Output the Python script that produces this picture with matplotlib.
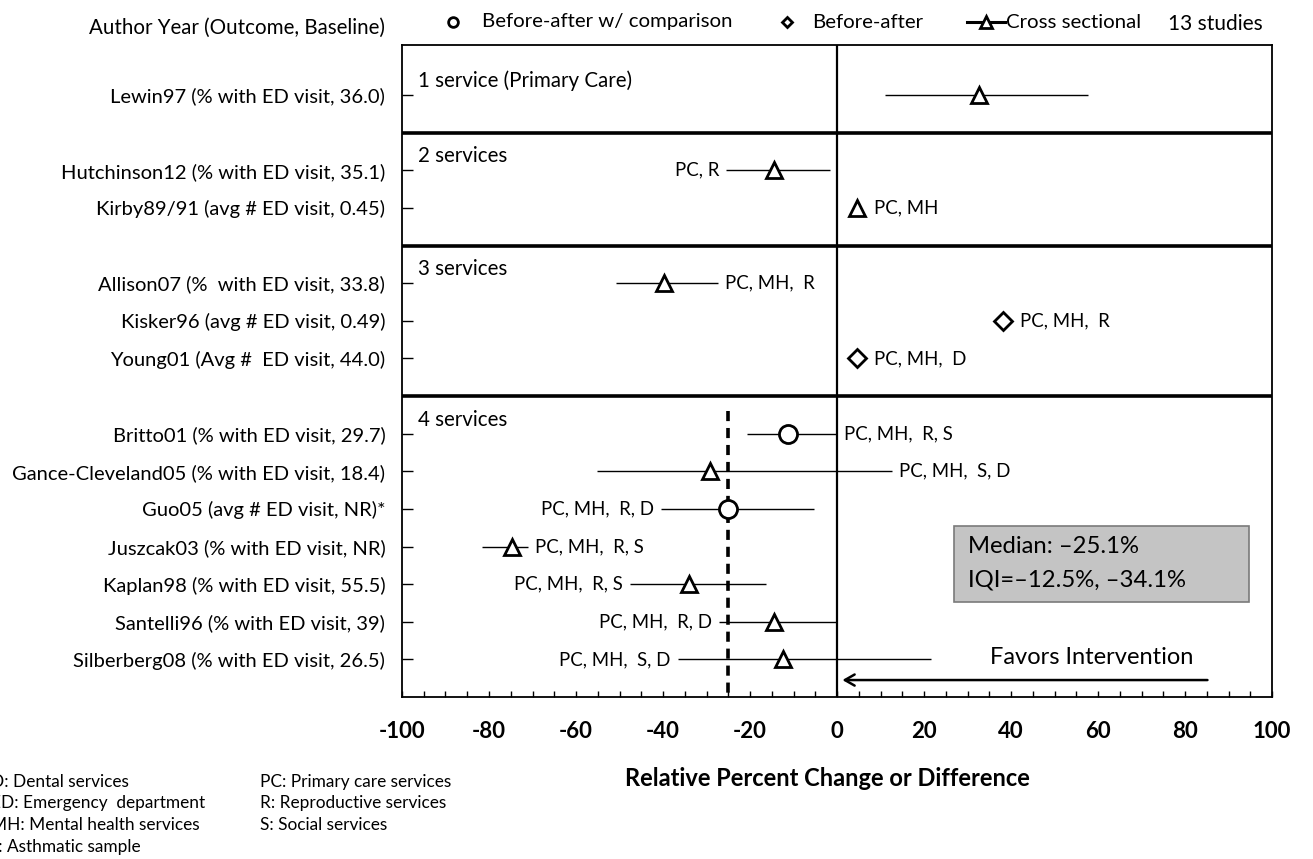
import numpy as np
import matplotlib
matplotlib.use('Agg')
import matplotlib.pyplot as plt
from matplotlib.lines import Line2D
from matplotlib.patches import Rectangle
from matplotlib.ticker import MultipleLocator, FuncFormatter

plt.rcParams['font.family'] = ['Lato', 'DejaVu Sans']
plt.rcParams['axes.unicode_minus'] = False

# data
studies = ['Lewin97 (% with ED visit, 36.0)',
           'Hutchinson12 (% with ED visit, 35.1)',
           'Kirby89/91 (avg # ED visit, 0.45)',
           'Allison07 (%  with ED visit, 33.8)',
           'Kisker96 (avg # ED visit, 0.49)',
           'Young01 (Avg #  ED visit, 44.0)',
           'Britto01 (% with ED visit, 29.7)',
           'Gance-Cleveland05 (% with ED visit, 18.4)',
           'Guo05 (avg # ED visit, NR)*',
           'Juszcak03 (% with ED visit, NR)',
           'Kaplan98 (% with ED visit, 55.5)',
           'Santelli96 (% with ED visit, 39)',
           'Silberberg08 (% with ED visit, 26.5)']
n_services = [1, 2, 2, 3, 3, 3, 4, 4, 4, 4, 4, 4, 4]
design = ['cs', 'cs', 'cs', 'cs', 'ba', 'ba', 'bac', 'cs', 'bac', 'cs', 'cs', 'cs', 'cs']
effect = [32.6, -14.5, 4.6, -39.8, 38.2, 4.6, -11.3, -29.2, -25.1, -74.8, -34.0, -14.5, -12.4]
ci_lo = [11.0, -25.5, np.nan, -50.8, np.nan, np.nan, -20.7, -55.2, -40.5, -81.7, -47.6, -27.1, -36.6]
ci_hi = [57.8, -1.6, np.nan, -27.4, np.nan, np.nan, 0.0, 12.6, -5.3, -71.0, -16.3, 0.0, 21.6]
services = ['', 'PC, R', 'PC, MH', 'PC, MH,  R', 'PC, MH,  R', 'PC, MH,  D', 'PC, MH,  R, S',
            'PC, MH,  S, D', 'PC, MH,  R, D', 'PC, MH,  R, S', 'PC, MH,  R, S', 'PC, MH,  R, D',
            'PC, MH,  S, D']
label_side = ['', 'L', 'R', 'R', 'R', 'R', 'R', 'R', 'L', 'R', 'L', 'L', 'L']
group_names = ['1 service (Primary Care)', '2 services', '3 services', '4 services']
median = -25.1
iqi = (-12.5, -34.1)
n_studies = 13

design_names = {'bac': 'Before-after w/ comparison', 'ba': 'Before-after', 'cs': 'Cross sectional'}
design_marker = {'bac': 'o', 'ba': 'D', 'cs': '^'}
design_ms = {'bac': 13, 'ba': 9, 'cs': 12}

# rows: one blank row between service groups
rows = []
r = -1
for i, g in enumerate(n_services):
    r += 1
    if i > 0 and g != n_services[i - 1]:
        r += 1
    rows.append(r)
rows = np.array(rows, dtype=float)
effect = np.array(effect)
ci_lo = np.array(ci_lo)
ci_hi = np.array(ci_hi)

W, H = 1313, 859
fig = plt.figure(figsize=(W / 100, H / 100), dpi=100)
ax = fig.add_axes([402 / W, 1 - 697 / H, 870 / W, 652 / H])
ax.set_xlim(-100, 100)
ax.set_ylim(16.0, -1.33)

# group separators
first_rows = []
for i in range(len(rows)):
    if i == 0 or n_services[i] != n_services[i - 1]:
        first_rows.append(rows[i])
        if i > 0:
            ax.axhline((rows[i] + rows[i - 1]) / 2, color='black', lw=2.6, zorder=2)
for name, fr in zip(group_names, first_rows):
    ax.text(-96.3, fr - 0.37, name, fontsize=14.8, va='center', ha='left')

ax.axvline(0, color='black', lw=1.6, zorder=2)

# CIs
ok = ~np.isnan(ci_lo)
ax.hlines(rows[ok], ci_lo[ok], ci_hi[ok], color='black', lw=1.0, zorder=2)

# median line in the 4-service section
ax.vlines(median, first_rows[-1] - 0.6, 16.0, color='black', lw=2.6,
          linestyles=(0, (2.8, 1.9)), zorder=2)

for d in ['bac', 'ba', 'cs']:
    m = np.array([x == d for x in design])
    ax.plot(effect[m], rows[m], ls='none', marker=design_marker[d], ms=design_ms[d],
            mfc='white', mec='black', mew=2, zorder=4)

for i, txt in enumerate(services):
    if not txt:
        continue
    if label_side[i] == 'L':
        ax.annotate(txt, (ci_lo[i], rows[i]), xytext=(-5, 0), textcoords='offset points',
                    ha='right', va='center', fontsize=13.4)
    else:
        if np.isnan(ci_hi[i]):
            x0, off = effect[i], 12
        else:
            x0, off = ci_hi[i], 5
        ax.annotate(txt, (x0, rows[i]), xytext=(off, 0), textcoords='offset points',
                    ha='left', va='center', fontsize=13.4)

# median box
ax.add_patch(Rectangle((0.634, 0.1457), 0.3393, 0.1166, transform=ax.transAxes,
                       facecolor='#c4c4c4', edgecolor='#7a7a7a', lw=1.2, zorder=3))
ax.text(0.6506, 0.2301, 'Median: \u2013%.1f%%' % abs(median), transform=ax.transAxes,
        fontsize=17.2, va='center', ha='left', zorder=5)
ax.text(0.6506, 0.1794, 'IQI=\u2013%.1f%%, \u2013%.1f%%' % (abs(iqi[0]), abs(iqi[1])),
        transform=ax.transAxes, fontsize=17.2, va='center', ha='left', zorder=5)

# favors intervention
ax.text(0.793, 0.0613, 'Favors Intervention', transform=ax.transAxes, fontsize=17,
        ha='center', va='center')
ax.annotate('', xy=(0.503, 0.026), xytext=(0.929, 0.026), xycoords='axes fraction',
            arrowprops=dict(arrowstyle='->,head_length=0.7,head_width=0.4', lw=1.8, color='black'))

# axes styling
ax.set_yticks(rows)
ax.set_yticklabels(studies, fontsize=14.5)
ax.tick_params(axis='y', direction='in', length=8, width=1, pad=12)
ax.xaxis.set_major_locator(MultipleLocator(20))
ax.xaxis.set_minor_locator(MultipleLocator(5))
ax.xaxis.set_major_formatter(FuncFormatter(lambda v, p: '%d' % v))
ax.tick_params(axis='x', which='both', direction='in', length=4, width=1, pad=17,
               labelsize=16)
for lab in ax.get_xticklabels():
    lab.set_fontweight('bold')
ax.set_xlabel('Relative Percent Change or Difference', fontsize=17, fontweight='bold')
ax.xaxis.set_label_coords(0.4885, -0.107)
for s in ax.spines.values():
    s.set_linewidth(1.3)

# header / legend
fig.text(385 / W, 1 - 28 / H, 'Author Year (Outcome, Baseline)', fontsize=14.8,
         ha='right', va='center')
ly = 1 - 22 / H
fig.add_artist(Line2D([453 / W], [ly], marker='o', ms=7, mfc='white', mec='black', mew=2))
fig.text(482 / W, ly, design_names['bac'], fontsize=14.7, va='center')
fig.add_artist(Line2D([787 / W], [ly], marker='D', ms=5.5, mfc='white', mec='black', mew=2))
fig.text(812 / W, ly, design_names['ba'], fontsize=14.7, va='center')
fig.add_artist(Line2D([967 / W, 1005 / W], [ly, ly], color='black', lw=2.2))
fig.add_artist(Line2D([986 / W], [ly], marker='^', ms=8, mfc='white', mec='black', mew=2))
fig.text(1006 / W, ly, design_names['cs'], fontsize=14.7, va='center')
fig.text(1168 / W, 1 - 24 / H, '%d studies' % n_studies, fontsize=15, va='center')

# footnotes (left column is clipped by the page edge, as in the source)
notes1 = ['D: Dental services', 'ED: Emergency  department', 'MH: Mental health services',
          '*: Asthmatic sample']
notes2 = ['PC: Primary care services', 'R: Reproductive services', 'S: Social services']
note_y = [782, 803, 825, 847]
for t, y in zip(notes1, note_y):
    fig.text(-9 / W, 1 - y / H, t, fontsize=12.4, va='center', ha='left')
for t, y in zip(notes2, note_y):
    fig.text(260 / W, 1 - y / H, t, fontsize=12.4, va='center', ha='left')

fig.savefig('out.png', dpi=100)
